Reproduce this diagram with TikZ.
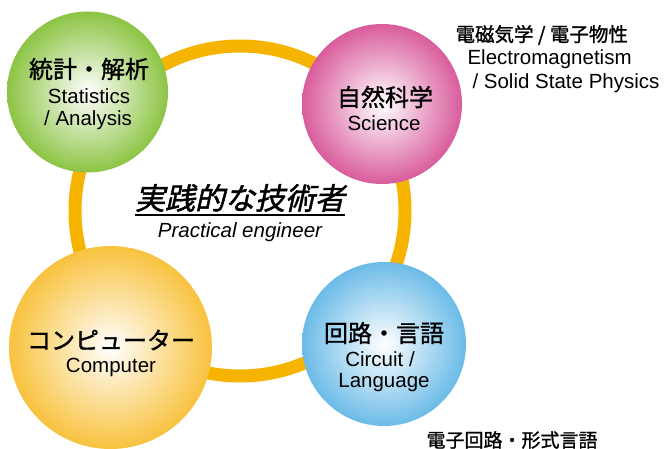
\documentclass[tikz,border=0pt]{standalone}
\usepackage{fontspec}
\setmainfont{Liberation Sans}
\newfontfamily\jpfont{Noto Sans CJK JP}
\newfontfamily\jpmed{Noto Sans CJK JP}[FakeBold=1.2]
\newfontfamily\jpslant{Noto Sans CJK JP}[FakeSlant=0.22, FakeBold=1.6]
\definecolor{ringgold}{HTML}{F6B300}
\definecolor{statgreen}{HTML}{8CC444}
\definecolor{scipink}{HTML}{D95C9C}
\definecolor{compyellow}{HTML}{F8C23E}
\definecolor{circblue}{HTML}{6BBBE7}
\tikzset{
  bubble/.style={circle, inner sep=0pt, minimum size=#1, inner color=white},
  head/.style={font=\jpmed\fontsize{24}{28}\selectfont},
  sub/.style={font=\fontsize{20.5}{24}\selectfont},
  note/.style={anchor=west, font=\fontsize{20.5}{24}\selectfont},
  ring/.style={draw=ringgold, line width=13pt},
}
\begin{document}
\begin{tikzpicture}[x=1pt, y=-1pt]
    \useasboundingbox (0,0) rectangle (666,449);
    % ring behind the four fields
    \coordinate (hub) at (240,211);
    \draw[ring] (hub) circle[radius=165pt];
    % the four fields
    \node[bubble=161pt, outer color=statgreen] (stat) at (87.5,92) {};
    \node[bubble=160pt, outer color=scipink] (sci) at (382,104) {};
    \node[bubble=203pt, outer color=compyellow] (comp) at (110.5,347.5) {};
    \node[bubble=164pt, outer color=circblue] (circ) at (384,344) {};
    % texts in the fields
    \node[head] (statjp) at (89,69) {統計・解析};
    \node[sub] (staten) at (89,96) {Statistics};
    \node[sub] (statan) at (88,120) {/ Analysis};
    \node[head] (scijp) at (385,97) {自然科学};
    \node[sub] (scien) at (384,123) {Science};
    \node[head] (compjp) at (111,340) {コンピューター};
    \node[sub] (compen) at (111,367) {Computer};
    \node[head] (circjp) at (384,333) {回路・言語};
    \node[sub] (circen) at (380,359) {Circuit /};
    \node[sub] (circla) at (384,383) {Language};
    % centre
    \node[font=\jpslant\fontsize{30}{33}\selectfont, inner sep=0pt] (title) at (240,198) {実践的な技術者};
    \draw[line width=2pt] ([yshift=-6pt]title.base west) -- ([yshift=-6pt]title.base east);
    \node[font=\itshape\fontsize{20.5}{24}\selectfont] (titleen) at (240,232) {Practical engineer};
    % notes
    \node[note, font=\jpmed\fontsize{19.5}{23}\selectfont] (scinote) at (452,35) {電磁気学 / 電子物性};
    \node[note] (scinoteen) at (464,59) {Electromagnetism};
    \node[note] (scinotess) at (469,83) {/ Solid State Physics};
    \node[note, font=\jpmed\fontsize{19}{23}\selectfont] (circnote) at (423,440) {電子回路・形式言語};
\end{tikzpicture}
\end{document}
